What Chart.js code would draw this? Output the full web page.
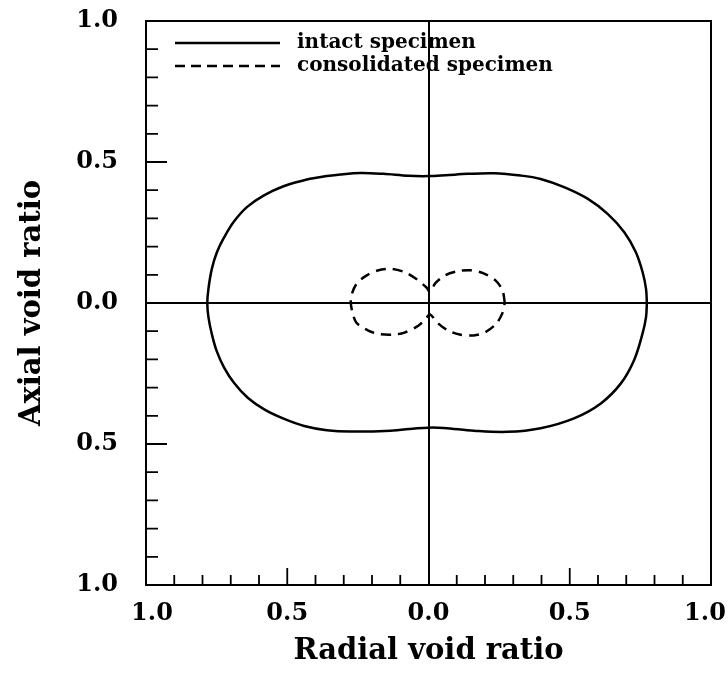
<!DOCTYPE html>
<html><head><meta charset="utf-8">
<script src="https://cdn.jsdelivr.net/npm/chart.js@4/dist/chart.umd.min.js"></script>
<style>html,body{margin:0;padding:0;background:#fff;}#wrap{width:728px;height:673px;}</style>
</head><body><div id="wrap"><canvas id="c" width="728" height="673"></canvas></div>
<script>
// ---- data ----
const seriesNames = ['intact specimen', 'consolidated specimen'];
const outerX = [0.773,0.770,0.758,0.734,0.693,0.634,0.563,0.480,0.397,0.326,0.232,0.140,0.060,0.000,-0.070,-0.160,-0.240,-0.312,-0.359,-0.430,-0.513,-0.584,-0.643,-0.690,-0.726,-0.749,-0.767,-0.779,-0.783,
  -0.779,-0.767,-0.750,-0.724,-0.688,-0.640,-0.580,-0.513,-0.440,-0.360,-0.277,-0.135,-0.040,0.000,0.054,0.161,0.279,0.397,0.515,0.610,0.681,0.728,0.758,0.770,0.773];
const outerY = [0.000,0.050,0.109,0.180,0.251,0.316,0.370,0.411,0.440,0.452,0.460,0.458,0.453,0.450,0.451,0.458,0.461,0.456,0.450,0.438,0.414,0.381,0.340,0.287,0.228,0.180,0.121,0.050,0.000,
  -0.050,-0.110,-0.170,-0.228,-0.284,-0.336,-0.378,-0.410,-0.436,-0.451,-0.456,-0.453,-0.444,-0.442,-0.443,-0.453,-0.457,-0.444,-0.409,-0.356,-0.285,-0.202,-0.107,-0.050,0.000];
const innerX = [0.270,0.262,0.237,0.195,0.150,0.105,0.060,0.025,0.005,-0.007,-0.043,-0.084,-0.131,-0.180,-0.220,-0.255,-0.273,-0.275,-0.270,-0.255,-0.213,-0.174,-0.124,-0.085,-0.035,-0.007,0.005,0.035,0.070,0.110,0.160,0.200,0.240,0.262,0.270];
const innerY = [0.000,0.045,0.080,0.105,0.116,0.113,0.099,0.071,0.040,0.055,0.085,0.109,0.121,0.115,0.097,0.068,0.026,0.000,-0.030,-0.070,-0.098,-0.110,-0.112,-0.105,-0.080,-0.052,-0.040,-0.073,-0.098,-0.112,-0.115,-0.104,-0.073,-0.035,0.000];
const tickValues = [-1, -0.5, 0, 0.5, 1];
const tickLabels = ['1.0', '0.5', '0.0', '0.5', '1.0'];
const minorTicks = [-0.9,-0.8,-0.7,-0.6,-0.4,-0.3,-0.2,-0.1,0.1,0.2,0.3,0.4,0.6,0.7,0.8,0.9];
const halfTicks = [-0.5, 0.5];

const toPts = (xs, ys) => xs.map((x, i) => ({x: x, y: ys[i]}));
const FONT = '"DejaVu Serif", serif';

const framePlugin = {
  id: 'frame',
  afterDatasetsDraw(chart) {
    const {ctx, chartArea: a, scales: {x, y}} = chart;
    ctx.save();
    ctx.strokeStyle = '#000';
    ctx.lineWidth = 2;
    ctx.strokeRect(a.left, a.top, a.right - a.left, a.bottom - a.top);
    ctx.lineWidth = 1.8;
    ctx.beginPath();
    minorTicks.forEach(v => {
      const px = x.getPixelForValue(v);
      ctx.moveTo(px, a.bottom); ctx.lineTo(px, a.bottom - 10);
      const py = y.getPixelForValue(v);
      ctx.moveTo(a.left, py); ctx.lineTo(a.left + 12, py);
    });
    halfTicks.forEach(v => {
      const px = x.getPixelForValue(v);
      ctx.moveTo(px, a.bottom); ctx.lineTo(px, a.bottom - 17);
      const py = y.getPixelForValue(v);
      ctx.moveTo(a.left, py); ctx.lineTo(a.left + 21, py);
    });
    ctx.stroke();
    // legend
    const lx0 = a.left + 29, lx1 = a.left + 134, tx = a.left + 151;
    const rows = [a.top + 22, a.top + 45];
    ctx.lineWidth = 2.5;
    ctx.setLineDash([]);
    ctx.beginPath(); ctx.moveTo(lx0, rows[0]); ctx.lineTo(lx1, rows[0]); ctx.stroke();
    ctx.setLineDash([10, 6]);
    ctx.beginPath(); ctx.moveTo(lx0, rows[1]); ctx.lineTo(lx1, rows[1]); ctx.stroke();
    ctx.setLineDash([]);
    ctx.fillStyle = '#000';
    ctx.font = 'bold 20px ' + FONT;
    ctx.textBaseline = 'middle';
    ctx.textAlign = 'left';
    ctx.fillText(seriesNames[0], tx, rows[0]);
    ctx.fillText(seriesNames[1], tx, rows[1]);
    ctx.restore();
  }
};

const zeroGrid = {
  color: (c) => (c.tick && c.tick.value === 0) ? '#000' : 'rgba(0,0,0,0)',
  lineWidth: 2,
  drawTicks: false
};

// keep the outermost x labels inside the page, as in the reference
const xLabel = (v, i) => i === 0 ? '\u2002' + tickLabels[i] : (i === tickLabels.length - 1 ? tickLabels[i] + '\u2002' : tickLabels[i]);

new Chart(document.getElementById('c'), {
  type: 'scatter',
  data: {
    datasets: [
      {label: seriesNames[0], data: toPts(outerX, outerY), showLine: true, borderColor: '#000', borderWidth: 2.5, pointRadius: 0, tension: 0.35, fill: false},
      {label: seriesNames[1], data: toPts(innerX, innerY), showLine: true, borderColor: '#000', borderWidth: 2.5, borderDash: [10, 7], pointRadius: 0, tension: 0.3, fill: false}
    ]
  },
  options: {
    responsive: false,
    animation: false,
    devicePixelRatio: 1,
    layout: {padding: {left: 0, top: 21, right: 17, bottom: 0}},
    plugins: {legend: {display: false}, tooltip: {enabled: false}},
    scales: {
      x: {
        type: 'linear', min: -1, max: 1,
        afterBuildTicks: (s) => { s.ticks = tickValues.map(v => ({value: v})); },
        afterFit: (s) => { s.height = 88; s.paddingLeft = 0; s.paddingRight = 0; },
        grid: zeroGrid,
        border: {display: false},
        ticks: {callback: xLabel, color: '#000', font: {family: FONT, size: 24, weight: 'bold'}, padding: 14, maxRotation: 0, autoSkip: false},
        title: {display: true, text: 'Radial void ratio', color: '#000', font: {family: FONT, size: 29, weight: 'bold'}, padding: {top: 0, bottom: 4}}
      },
      y: {
        type: 'linear', min: -1, max: 1,
        afterBuildTicks: (s) => { s.ticks = tickValues.map(v => ({value: v})); },
        afterFit: (s) => { s.width = 146; s.paddingTop = 0; s.paddingBottom = 0; },
        grid: zeroGrid,
        border: {display: false},
        ticks: {callback: (v, i) => tickLabels[i], color: '#000', font: {family: FONT, size: 24, weight: 'bold'}, padding: 28, autoSkip: false},
        title: {display: true, text: 'Axial void ratio', color: '#000', font: {family: FONT, size: 29, weight: 'bold'}, padding: {top: 15, bottom: 0}}
      }
    }
  },
  plugins: [framePlugin]
});
</script>
</body></html>
